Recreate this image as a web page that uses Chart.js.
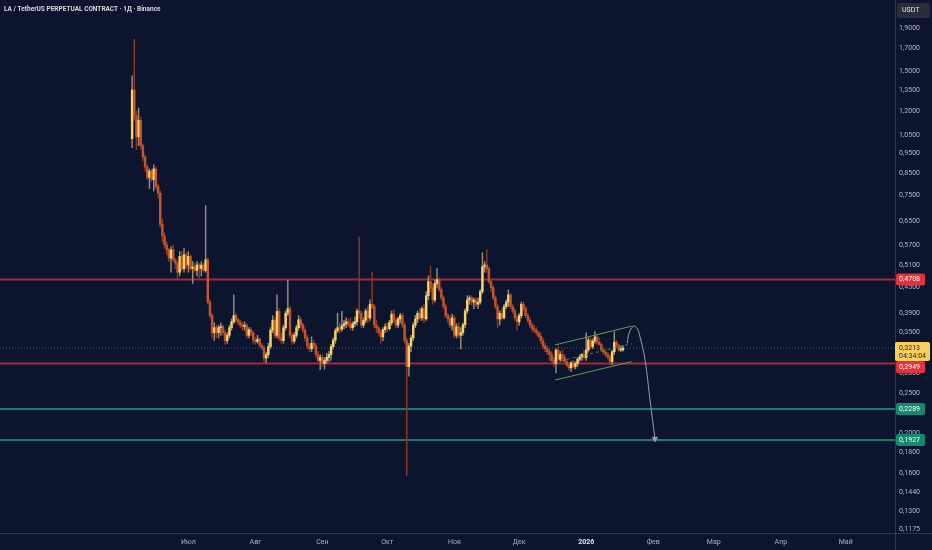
<!DOCTYPE html>
<html>
<head>
<meta charset="utf-8">
<script src="https://cdn.jsdelivr.net/npm/chart.js@4.4.1/dist/chart.umd.min.js"></script>
<style>
  html, body { margin: 0; padding: 0; background: #0d152e; }
  #wrap { width: 932px; height: 550px; }
</style>
</head>
<body>
<div id="wrap"><canvas id="chart" width="932" height="550"></canvas></div>
<script>
// daily candles, LA/USDT perp, starting 2025-06-05
const firstDay = '2025-06-05';

const opens = [
  1.03,1.35,1.17,1.04,1.14,0.99,0.93,0.88,0.83,0.86,
  0.82,0.87,0.79,0.76,0.64,0.60,0.57,0.555,0.53,0.555,
  0.525,0.515,0.49,0.535,0.50,0.54,0.51,0.535,0.50,0.505,
  0.495,0.51,0.50,0.51,0.495,0.525,0.415,0.385,0.35,0.36,
  0.35,0.36,0.362,0.35,0.335,0.345,0.36,0.372,0.385,0.376,
  0.372,0.366,0.362,0.365,0.345,0.356,0.35,0.336,0.333,0.338,
  0.326,0.322,0.304,0.31,0.324,0.355,0.375,0.345,0.394,0.34,
  0.335,0.36,0.39,0.40,0.345,0.334,0.345,0.36,0.376,0.366,
  0.355,0.34,0.325,0.32,0.33,0.325,0.31,0.30,0.305,0.295,
  0.30,0.305,0.31,0.324,0.336,0.354,0.36,0.357,0.364,0.368,
  0.372,0.366,0.36,0.368,0.372,0.395,0.39,0.365,0.375,0.395,
  0.38,0.41,0.405,0.365,0.36,0.35,0.342,0.356,0.362,0.358,
  0.37,0.388,0.375,0.365,0.378,0.385,0.365,0.335,0.29,0.325,
  0.34,0.365,0.378,0.39,0.38,0.40,0.378,0.43,0.465,0.45,
  0.42,0.46,0.47,0.445,0.425,0.405,0.385,0.378,0.365,0.38,
  0.345,0.362,0.345,0.35,0.366,0.395,0.42,0.425,0.415,0.42,
  0.41,0.415,0.44,0.505,0.51,0.50,0.465,0.45,0.425,0.405,
  0.378,0.39,0.38,0.405,0.415,0.432,0.405,0.395,0.38,0.372,
  0.385,0.41,0.40,0.385,0.375,0.365,0.358,0.355,0.35,0.343,
  0.335,0.325,0.32,0.315,0.31,0.30,0.295,0.318,0.302,0.31,
  0.305,0.298,0.292,0.288,0.296,0.29,0.295,0.302,0.306,0.31,
  0.305,0.318,0.336,0.324,0.334,0.342,0.332,0.328,0.318,0.314,
  0.31,0.306,0.298,0.315,0.332,0.326,0.318,0.318
];
const highs = [
  1.46,1.79,1.20,1.22,1.16,1.00,0.94,0.89,0.87,0.87,
  0.89,0.88,0.80,0.77,0.66,0.61,0.58,0.56,0.565,0.57,
  0.53,0.52,0.55,0.55,0.56,0.545,0.55,0.54,0.52,0.515,
  0.52,0.515,0.52,0.515,0.71,0.53,0.42,0.39,0.37,0.365,
  0.365,0.37,0.365,0.355,0.35,0.365,0.378,0.432,0.39,0.38,
  0.375,0.37,0.372,0.368,0.36,0.36,0.352,0.342,0.345,0.34,
  0.33,0.326,0.314,0.33,0.36,0.385,0.38,0.432,0.40,0.35,
  0.365,0.395,0.469,0.405,0.35,0.35,0.365,0.385,0.38,0.37,
  0.36,0.345,0.33,0.342,0.335,0.33,0.315,0.31,0.31,0.305,
  0.312,0.315,0.328,0.34,0.358,0.39,0.37,0.394,0.375,0.38,
  0.378,0.38,0.372,0.382,0.40,0.596,0.395,0.38,0.40,0.405,
  0.42,0.489,0.41,0.375,0.362,0.356,0.36,0.368,0.37,0.375,
  0.395,0.398,0.38,0.382,0.39,0.39,0.37,0.34,0.33,0.345,
  0.37,0.385,0.395,0.40,0.405,0.41,0.44,0.48,0.507,0.46,
  0.47,0.50,0.475,0.45,0.43,0.41,0.39,0.385,0.388,0.385,
  0.368,0.37,0.36,0.37,0.40,0.43,0.43,0.43,0.425,0.425,
  0.425,0.445,0.546,0.52,0.555,0.505,0.47,0.455,0.43,0.41,
  0.395,0.40,0.41,0.42,0.444,0.435,0.41,0.40,0.385,0.39,
  0.415,0.415,0.405,0.39,0.38,0.37,0.365,0.36,0.352,0.35,
  0.34,0.33,0.325,0.32,0.315,0.305,0.32,0.325,0.315,0.318,
  0.31,0.302,0.296,0.298,0.30,0.298,0.305,0.31,0.312,0.318,
  0.35,0.34,0.34,0.338,0.352,0.346,0.34,0.33,0.322,0.318,
  0.314,0.31,0.318,0.352,0.335,0.328,0.325,0.326
];
const lows = [
  0.98,1.14,0.97,0.99,0.97,0.91,0.86,0.82,0.78,0.81,
  0.77,0.78,0.74,0.63,0.58,0.56,0.54,0.52,0.49,0.52,
  0.50,0.47,0.48,0.495,0.49,0.50,0.49,0.495,0.46,0.49,
  0.48,0.475,0.48,0.49,0.49,0.41,0.38,0.34,0.335,0.34,
  0.34,0.345,0.345,0.328,0.33,0.34,0.355,0.368,0.37,0.365,
  0.36,0.355,0.355,0.34,0.34,0.345,0.33,0.328,0.33,0.322,
  0.318,0.298,0.296,0.305,0.32,0.35,0.34,0.34,0.335,0.33,
  0.33,0.355,0.385,0.34,0.328,0.33,0.34,0.355,0.36,0.35,
  0.335,0.32,0.315,0.315,0.32,0.305,0.298,0.285,0.29,0.286,
  0.295,0.298,0.30,0.32,0.33,0.35,0.35,0.353,0.358,0.36,
  0.362,0.355,0.355,0.362,0.365,0.38,0.36,0.36,0.37,0.37,
  0.375,0.40,0.36,0.35,0.345,0.33,0.335,0.35,0.352,0.355,
  0.365,0.37,0.36,0.36,0.37,0.36,0.33,0.158,0.275,0.315,
  0.335,0.36,0.37,0.375,0.375,0.37,0.375,0.42,0.44,0.41,
  0.415,0.45,0.44,0.42,0.40,0.38,0.37,0.36,0.355,0.34,
  0.34,0.34,0.32,0.345,0.36,0.39,0.41,0.408,0.40,0.405,
  0.40,0.41,0.435,0.49,0.49,0.46,0.44,0.42,0.40,0.36,
  0.365,0.375,0.378,0.40,0.405,0.40,0.39,0.375,0.355,0.365,
  0.38,0.395,0.38,0.37,0.36,0.352,0.35,0.345,0.34,0.33,
  0.32,0.315,0.31,0.30,0.298,0.29,0.28,0.30,0.298,0.30,
  0.295,0.29,0.284,0.282,0.287,0.286,0.29,0.298,0.30,0.302,
  0.30,0.314,0.32,0.32,0.33,0.328,0.326,0.315,0.31,0.306,
  0.302,0.293,0.293,0.31,0.322,0.316,0.315,0.316
];
const closes = [
  1.35,1.17,1.04,1.14,0.99,0.93,0.88,0.83,0.86,0.82,
  0.87,0.79,0.76,0.64,0.60,0.57,0.555,0.53,0.555,0.525,
  0.515,0.49,0.535,0.50,0.54,0.51,0.535,0.50,0.505,0.495,
  0.51,0.50,0.51,0.495,0.525,0.415,0.385,0.35,0.36,0.35,
  0.36,0.362,0.35,0.335,0.345,0.36,0.372,0.385,0.376,0.372,
  0.366,0.362,0.365,0.345,0.356,0.35,0.336,0.333,0.338,0.326,
  0.322,0.304,0.31,0.324,0.355,0.375,0.345,0.394,0.34,0.335,
  0.36,0.39,0.40,0.345,0.334,0.345,0.36,0.376,0.366,0.355,
  0.34,0.325,0.32,0.33,0.325,0.31,0.30,0.305,0.295,0.30,
  0.305,0.31,0.324,0.336,0.354,0.36,0.357,0.364,0.368,0.372,
  0.366,0.36,0.368,0.372,0.395,0.39,0.365,0.375,0.395,0.38,
  0.41,0.405,0.365,0.36,0.35,0.342,0.356,0.362,0.358,0.37,
  0.388,0.375,0.365,0.378,0.385,0.365,0.335,0.29,0.325,0.34,
  0.365,0.378,0.39,0.38,0.40,0.378,0.43,0.465,0.45,0.42,
  0.46,0.47,0.445,0.425,0.405,0.385,0.378,0.365,0.38,0.345,
  0.362,0.345,0.35,0.366,0.395,0.42,0.425,0.415,0.42,0.41,
  0.415,0.44,0.505,0.51,0.50,0.465,0.45,0.425,0.405,0.378,
  0.39,0.38,0.405,0.415,0.432,0.405,0.395,0.38,0.372,0.385,
  0.41,0.40,0.385,0.375,0.365,0.358,0.355,0.35,0.343,0.335,
  0.325,0.32,0.315,0.31,0.30,0.295,0.318,0.302,0.31,0.305,
  0.298,0.292,0.288,0.296,0.29,0.295,0.302,0.306,0.31,0.305,
  0.318,0.336,0.324,0.334,0.342,0.332,0.328,0.318,0.314,0.31,
  0.306,0.298,0.315,0.332,0.326,0.318,0.318,0.3213
];

// time axis
const monthTicks = ['2025-07-01','2025-08-01','2025-09-01','2025-10-01','2025-11-01','2025-12-01',
                    '2026-01-01','2026-02-01','2026-03-01','2026-04-01','2026-05-01'];
const monthLabels = ['Июл','Авг','Сен','Окт','Ноя','Дек','2026','Фев','Мар','Апр','Май'];

// price axis
const priceTicks = [1.9,1.7,1.5,1.35,1.2,1.05,0.95,0.85,0.75,0.65,0.57,0.51,0.45,0.39,0.35,
                    0.28,0.25,0.2,0.18,0.16,0.144,0.13,0.1175];

// horizontal levels
const levels = [0.4708, 0.2949, 0.2289, 0.1927];
const levelLine = ['#a8293a', '#a8293a', '#167a6c', '#167a6c'];
const levelBox = ['#e2323f', '#e2323f', '#15896f', '#15896f'];
const lastPrice = 0.3213;
const countdown = '04:34:04';

// ascending channel (day from 1 Jul, price)
const channelDays = [169.6, 205.0];
const channelTop = [0.327, 0.363];
const channelMid = [0.297, 0.329];
const channelBottom = [0.269, 0.298];

// projected path arrow
const arrowDays = [203.0, 203.8, 205.8, 207.5, 208.9, 211.2, 213.5, 215.8];
const arrowPrices = [0.33, 0.349, 0.363, 0.359, 0.342, 0.301, 0.241, 0.194];

const title = 'LA / TetherUS PERPETUAL CONTRACT · 1Д · Binance';

const DAY = 864e5;
const dayOf = s => (Date.parse(s) - Date.parse('2025-07-01')) / DAY;
const startDay = dayOf(firstDay);
const days = closes.map((c, i) => startDay + i);
const xMin = -87.1, xMax = 326.8;
const yMin = 0.1149, yMax = 2.227;

const UP = '#f8d466', DOWN = '#c5532b';
const UP_WICK = '#948d79', DOWN_WICK = '#8e3a23';
const isUp = closes.map((c, i) => c >= opens[i]);
const fmt = v => v.toFixed(4).replace('.', ',');
const FONT = 'Roboto, "Noto Sans", sans-serif';
Chart.defaults.font.family = FONT;

const hline = (v, color, width, dash) => ({
  type: 'line',
  data: [{ x: xMin, y: v }, { x: xMax, y: v }],
  borderColor: color, borderWidth: width, borderDash: dash || [],
  pointRadius: 0, order: 5
});
const seg = (ys, dash) => ({
  type: 'line',
  data: channelDays.map((d, i) => ({ x: d, y: ys[i] })),
  borderColor: dash ? 'rgba(92,160,96,0.75)' : '#5a9e5e', borderWidth: 1,
  borderDash: dash ? [3, 3] : [], pointRadius: 0, order: -1
});

const background = {
  id: 'background',
  beforeDraw(chart) {
    const { ctx, width, height } = chart;
    ctx.save();
    ctx.fillStyle = '#0d152e';
    ctx.fillRect(0, 0, width, height);
    ctx.restore();
  }
};

function box(ctx, x, y, w, h, color) {
  ctx.fillStyle = color;
  ctx.beginPath();
  ctx.roundRect(x, y, w, h, 2);
  ctx.fill();
}

const overlay = {
  id: 'overlay',
  afterDraw(chart) {
    const { ctx, chartArea, scales: { y }, width, height } = chart;
    const right = chartArea.right;
    ctx.save();
    // axis separators
    ctx.strokeStyle = '#30374a';
    ctx.lineWidth = 1;
    ctx.beginPath();
    ctx.moveTo(Math.round(right) + 0.5, 0); ctx.lineTo(Math.round(right) + 0.5, height);
    ctx.moveTo(0, Math.round(chartArea.bottom) + 0.5); ctx.lineTo(width, Math.round(chartArea.bottom) + 0.5);
    ctx.stroke();

    // title
    ctx.font = 'bold 6.5px ' + FONT;
    ctx.fillStyle = '#d6d8df';
    ctx.textBaseline = 'middle';
    ctx.textAlign = 'left';
    ctx.fillText(title, 4, 9);

    // currency box
    box(ctx, right + 2, 3, 33, 15, '#2a2e39');
    ctx.fillStyle = '#e6e8ee';
    ctx.font = '7px ' + FONT;
    ctx.fillText('USDT', right + 7, 10.5);

    // last price label
    const py = y.getPixelForValue(lastPrice);
    const pTop = py - 6, pH = 19;

    // level labels
    ctx.font = '7px ' + FONT;
    levels.forEach((v, i) => {
      let ly = y.getPixelForValue(v);
      if (ly - 6 < pTop + pH && ly + 6 > pTop) ly = pTop + pH + 6;
      box(ctx, right + 1, ly - 6, 29, 12, levelBox[i]);
      ctx.fillStyle = '#ffffff';
      ctx.fillText(fmt(v), right + 4, ly);
    });

    box(ctx, right, pTop, 35, pH, '#f7cf5e');
    ctx.fillStyle = '#1d2030';
    ctx.fillText(fmt(lastPrice), right + 4, py);
    ctx.fillText(countdown, right + 4, py + 8);
    ctx.restore();
  }
};

new Chart(document.getElementById('chart'), {
  type: 'bar',
  data: {
    datasets: [
      {
        label: 'body',
        data: days.map((d, i) => ({ x: d, y: [opens[i], closes[i]] })),
        backgroundColor: isUp.map(u => u ? UP : DOWN),
        barThickness: 1.8, minBarLength: 1, grouped: false, order: 1
      },
      {
        label: 'wick',
        data: days.map((d, i) => ({ x: d, y: [lows[i], highs[i]] })),
        backgroundColor: isUp.map(u => u ? UP_WICK : DOWN_WICK),
        barThickness: 0.8, grouped: false, order: 2
      },
      hline(lastPrice, 'rgba(125,128,140,0.55)', 1, [1, 2]),
      ...levels.map((v, i) => hline(v, levelLine[i], 2)),
      seg(channelTop), seg(channelBottom), seg(channelMid, true),
      {
        type: 'line',
        data: arrowDays.map((d, i) => ({ x: d, y: arrowPrices[i] })),
        borderColor: '#9a9ea8', backgroundColor: '#9a9ea8', borderWidth: 1,
        tension: 0.4, pointStyle: 'triangle', rotation: 180,
        pointRadius: arrowDays.map((d, i) => i === arrowDays.length - 1 ? 3 : 0),
        order: -2
      }
    ]
  },
  options: {
    responsive: false,
    animation: false,
    events: [],
    layout: { padding: 0, autoPadding: false },
    plugins: { legend: { display: false }, tooltip: { enabled: false } },
    scales: {
      x: {
        type: 'linear', min: xMin, max: xMax, offset: false, bounds: 'data',
        grid: { display: false, drawTicks: false },
        border: { display: false },
        ticks: {
          autoSkip: false, maxRotation: 0, minRotation: 0, padding: 5,
          color: ctx => ctx.tick && ctx.tick.value === dayOf('2026-01-01') ? '#e8e9ee' : '#aeb1bb',
          font: ctx => ({ size: 7, weight: ctx.tick && ctx.tick.value === dayOf('2026-01-01') ? 'bold' : 'normal' }),
          callback: v => monthLabels[monthTicks.findIndex(m => dayOf(m) === v)]
        },
        afterBuildTicks: s => { s.ticks = monthTicks.map(m => ({ value: dayOf(m) })); },
        afterFit: s => { s.height = 17; s.paddingLeft = 0; s.paddingRight = 0; }
      },
      y: {
        type: 'logarithmic', position: 'right', min: yMin, max: yMax, bounds: 'data',
        grid: { display: false, drawTicks: false },
        border: { display: false },
        ticks: {
          autoSkip: false, crossAlign: 'near', padding: 4,
          color: '#b4b7c0', font: { size: 7 },
          callback: v => fmt(v)
        },
        afterBuildTicks: s => { s.ticks = priceTicks.map(v => ({ value: v })); },
        afterFit: s => { s.width = 37; s.paddingTop = 0; s.paddingBottom = 0; }
      }
    }
  },
  plugins: [background, overlay]
});
</script>
</body>
</html>
